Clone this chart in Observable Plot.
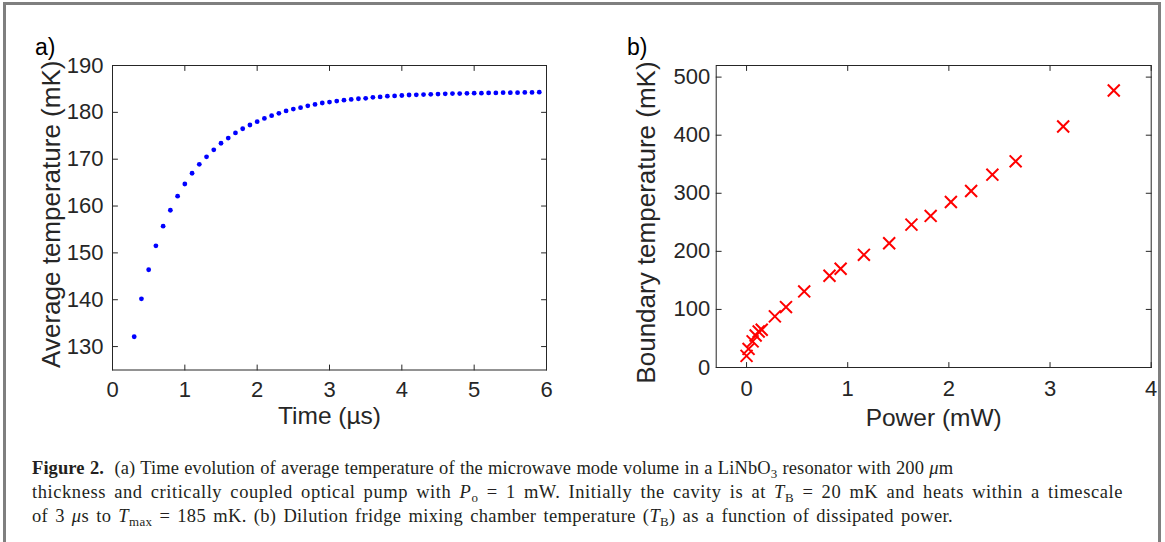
<!DOCTYPE html>
<html><head><meta charset="utf-8">
<script src="https://cdn.jsdelivr.net/npm/d3@7"></script>
<script src="https://cdn.jsdelivr.net/npm/@observablehq/plot@0.6"></script>
<style>
html,body{margin:0;padding:0;background:#fff;}
#page{position:relative;width:1165px;height:542px;overflow:hidden;background:#fff;}
#border{position:absolute;left:3px;top:2px;width:1158px;height:600px;border:3px solid #7f7f7f;box-sizing:border-box;}
#pa{position:absolute;left:0;top:0;}
#pb{position:absolute;left:580px;top:0;}
.plabel{position:absolute;font-family:"Liberation Sans",Arial,sans-serif;font-size:23px;line-height:1;color:#000;}
#caption{position:absolute;left:32px;top:457px;font-family:"Liberation Serif",serif;font-size:18.5px;line-height:23px;color:#231f20;white-space:nowrap;}
#caption .line{display:inline-block;}
#caption sub{font-size:70%;vertical-align:baseline;position:relative;top:0.3em;}
</style></head>
<body>
<div id="page">
  <div id="border"></div>
  <div id="pa"></div>
  <div id="pb"></div>
  <div class="plabel" style="left:35px;top:36px;">a)</div>
  <div class="plabel" style="left:627px;top:36px;">b)</div>
  <div id="caption">
    <div class="line" data-w="920"><b>Figure 2.</b>&nbsp;&nbsp;(a) Time evolution of average temperature of the microwave mode volume in a LiNbO<sub>3</sub> resonator with 200 <i>μ</i>m</div><br>
    <div class="line" data-w="1091">thickness and critically coupled optical pump with <i>P</i><sub>o</sub> = 1 mW. Initially the cavity is at <i>T</i><sub>B</sub> = 20 mK and heats within a timescale</div><br>
    <div class="line" data-w="921">of 3 <i>μ</i>s to <i>T</i><sub>max</sub> = 185 mK. (b) Dilution fridge mixing chamber temperature (<i>T</i><sub>B</sub>) as a function of dissipated power.</div>
  </div>
</div>
<script>
// ---- Panel (a) data: time evolution of average temperature ----
const timeUs = [0.3,0.4,0.5,0.6,0.7,0.8,0.9,1.0,1.1,1.2,1.3,1.4,1.5,1.6,1.7,1.8,1.9,2.0,2.1,2.2,2.3,2.4,2.5,2.6,2.7,2.8,2.9,3.0,3.1,3.2,3.3,3.4,3.5,3.6,3.7,3.8,3.9,4.0,4.1,4.2,4.3,4.4,4.5,4.6,4.7,4.8,4.9,5.0,5.1,5.2,5.3,5.4,5.5,5.6,5.7,5.8,5.9];
const avgTempMK = [132.1,140.2,146.4,151.5,155.7,159.1,162.1,164.7,167.0,168.9,170.5,172.0,173.4,174.5,175.6,176.5,177.3,178.0,178.7,179.3,179.8,180.3,180.7,181.0,181.4,181.7,182.0,182.2,182.4,182.6,182.75,182.9,183.0,183.2,183.3,183.45,183.5,183.6,183.7,183.75,183.8,183.85,183.9,183.95,184.0,184.0,184.05,184.1,184.1,184.15,184.15,184.2,184.2,184.2,184.25,184.25,184.3];
const xTicksA = [0,1,2,3,4,5,6];
const yTicksA = [130,140,150,160,170,180,190];

// ---- Panel (b) data: boundary temperature vs power ----
const powerMW = [0.00,0.02,0.06,0.09,0.12,0.15,0.28,0.39,0.57,0.82,0.93,1.16,1.41,1.63,1.82,2.02,2.22,2.43,2.66,3.13,3.63];
const boundaryTempMK = [20,32,45,55,62,65,88,104,131,158,170,194,214,246,261,285,304,332,355,415,477];
const xTicksB = [0,1,2,3,4];
const yTicksB = [0,100,200,300,400,500];

const axisColor = "#262626";
const tickLen = 5;
const tickShape = {draw(ctx, l) { ctx.moveTo(0, 0); ctx.lineTo(0, -l); }};
function frameTicks(xt, yt) {
  const common = {length: tickLen, anchor: "start", shape: tickShape, stroke: axisColor, strokeWidth: 1};
  return [
    Plot.vector(xt, {x: d => d, frameAnchor: "bottom", rotate: 0, ...common}),
    Plot.vector(xt, {x: d => d, frameAnchor: "top", rotate: 180, ...common}),
    Plot.vector(yt, {y: d => d, frameAnchor: "left", rotate: 90, ...common}),
    Plot.vector(yt, {y: d => d, frameAnchor: "right", rotate: -90, ...common})
  ];
}
const H = 430;
const style = {fontFamily: "'Liberation Sans', Arial, sans-serif", color: axisColor, background: "transparent", overflow: "visible"};
const titleOpts = {fontSize: 24.5, fill: axisColor, textAnchor: "middle", lineAnchor: "middle"};
const yTitleOpts = {...titleOpts, fontSize: 26, rotate: -90, frameAnchor: "left"};

const dataA = timeUs.map((t, i) => ({t, T: avgTempMK[i]}));
const plotA = Plot.plot({
  width: 580, height: H,
  marginLeft: 112, marginRight: 34, marginTop: 65, marginBottom: H - 369.5,
  x: {domain: [0, 6]},
  y: {domain: [125, 190]},
  style,
  marks: [
    Plot.frame({stroke: axisColor, strokeWidth: 1}),
    Plot.axisX(xTicksA, {anchor: "bottom", tickSize: 0, tickPadding: 11, fontSize: 22, label: null}),
    Plot.axisY(yTicksA, {anchor: "left", tickSize: 0, tickPadding: 9, fontSize: 22, label: null}),
    ...frameTicks(xTicksA, yTicksA),
    Plot.dot(dataA, {x: "t", y: "T", r: 2.4, fill: "#0000ff", stroke: null}),
    Plot.text(["Time (µs)"], {frameAnchor: "bottom", dy: 46.5, ...titleOpts}),
    Plot.text(["Average temperature (mK)"], {dx: -61, dy: -3.5, ...yTitleOpts})
  ]
});
document.getElementById("pa").append(plotA);

const dataB = powerMW.map((p, i) => ({p, T: boundaryTempMK[i]}));
const plotB = Plot.plot({
  width: 585, height: H,
  marginLeft: 135.7, marginRight: 14.3, marginTop: 65, marginBottom: H - 367,
  x: {domain: [-0.3, 4]},
  y: {domain: [0, 520]},
  style,
  marks: [
    Plot.frame({stroke: axisColor, strokeWidth: 1}),
    Plot.axisX(xTicksB, {anchor: "bottom", tickSize: 0, tickPadding: 13, fontSize: 22, label: null}),
    Plot.axisY(yTicksB, {anchor: "left", tickSize: 0, tickPadding: 6, fontSize: 22, label: null}),
    ...frameTicks(xTicksB, yTicksB),
    Plot.dot(dataB, {x: "p", y: "T", symbol: "times", r: 5.5, stroke: "#ff0000", strokeWidth: 2, fill: "none"}),
    Plot.text(["Power (mW)"], {frameAnchor: "bottom", dy: 51, ...titleOpts}),
    Plot.text(["Boundary temperature (mK)"], {dx: -70, dy: 6, ...yTitleOpts})
  ]
});
document.getElementById("pb").append(plotB);

// stretch caption lines to the reference line widths (half via word gaps, half via letter gaps)
document.querySelectorAll("#caption .line").forEach(el => {
  const target = +el.dataset.w;
  const w = el.getBoundingClientRect().width;
  const text = el.textContent;
  const n = text.length;
  const spaces = (text.match(/ /g) || []).length || 1;
  const extra = target - w;
  el.style.wordSpacing = (extra * 0.5 / spaces).toFixed(3) + "px";
  el.style.letterSpacing = (extra * 0.5 / n).toFixed(3) + "px";
});
</script>
</body></html>
